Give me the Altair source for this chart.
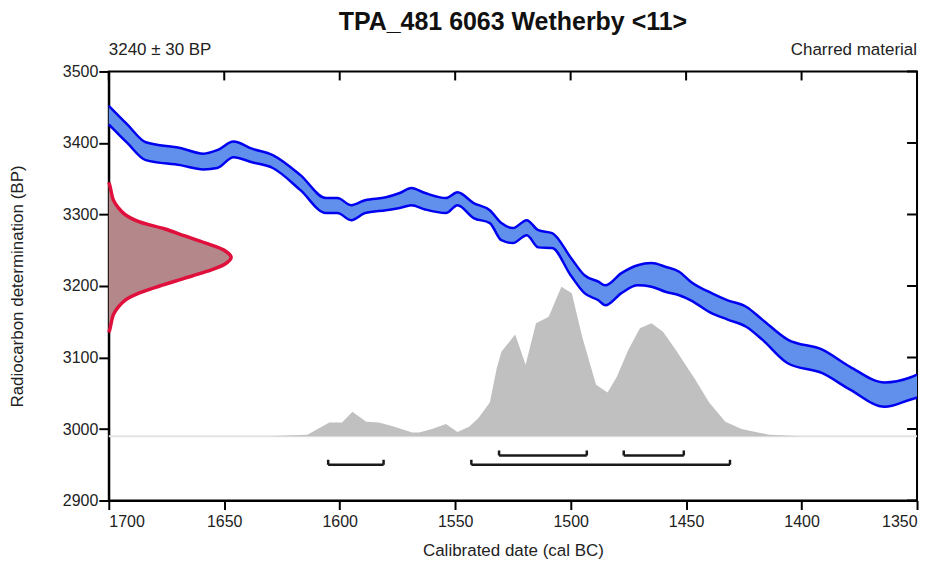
import altair as alt
import pandas as pd

# ---------------- data ----------------
# calibration curve band (cal BC, upper and lower BP edge)
cal_year = [1700, 1692, 1684, 1669, 1659, 1653, 1646, 1638, 1629, 1617, 1606, 1601,
            1595, 1589, 1580, 1574, 1569, 1563, 1554, 1549, 1542, 1535, 1530, 1525,
            1519, 1514, 1508, 1500, 1494, 1488, 1485, 1478, 1471, 1465, 1459, 1453,
            1448, 1439, 1432, 1424, 1417, 1406, 1391, 1379, 1364, 1353, 1350]
cal_top = [3452, 3426, 3401, 3393, 3385, 3390, 3402, 3392, 3383, 3355, 3323, 3323,
           3313, 3320, 3324, 3330, 3337, 3330, 3323, 3331, 3316, 3306, 3288, 3281,
           3292, 3278, 3274, 3240, 3215, 3206, 3201, 3218, 3229, 3232, 3227, 3220,
           3206, 3190, 3180, 3171, 3153, 3125, 3111, 3087, 3065, 3072, 3076]
cal_bot = [3426, 3400, 3376, 3369, 3363, 3365, 3380, 3373, 3365, 3334, 3302, 3302,
           3292, 3302, 3306, 3309, 3313, 3307, 3302, 3313, 3295, 3288, 3264, 3260,
           3271, 3254, 3253, 3215, 3190, 3180, 3173, 3190, 3201, 3199, 3192, 3187,
           3180, 3162, 3153, 3143, 3125, 3092, 3078, 3055, 3031, 3041, 3044]

# radiocarbon determination 3240 +/- 30 BP (BP, width in years from the axis)
rc_bp = [3345, 3340, 3320, 3310, 3300, 3290, 3280, 3270, 3260, 3250, 3240,
         3230, 3220, 3210, 3200, 3190, 3180, 3170, 3160, 3140, 3135]
rc_width = [0, 0.5, 2, 4, 7, 13, 24, 33, 42, 50, 53,
            50, 42, 32, 22, 13, 7, 4, 2, 0.5, 0]

# calibrated probability distribution (cal BC, BP height of outline)
pd_year = [1632, 1625, 1614, 1604.5, 1599, 1594.5, 1588.5, 1583, 1577, 1568.6, 1565.6,
           1560, 1554, 1549, 1544, 1540, 1535, 1532, 1530, 1524, 1519.5, 1515, 1509.5,
           1504, 1499.5, 1495, 1489, 1484, 1480, 1475, 1470, 1465, 1460, 1454.5,
           1446, 1440, 1433, 1426, 1414, 1400]
pd_top = [2990, 2990.5, 2992, 3009, 3009, 3024, 3010, 3009, 3004, 2995, 2995,
          3000, 3007, 2996, 3003, 3015, 3037, 3085, 3108, 3132, 3090, 3148, 3157,
          3199, 3190, 3129, 3062, 3051, 3073, 3111, 3141, 3148, 3136, 3111,
          3069, 3037, 3010, 3000, 2992, 2990]
pd_base = 2990

# highest posterior density ranges
hpd_start = [1531, 1477, 1605, 1543]
hpd_end = [1493, 1451, 1581, 1431]
hpd_row = [2963, 2963, 2950, 2950]

x_ticks = [1700, 1650, 1600, 1550, 1500, 1450, 1400, 1350]
y_ticks = [2900, 3000, 3100, 3200, 3300, 3400, 3500]

# ---------------- build chart ----------------
W, H = 810, 430
FONT = "Liberation Sans"

xs = alt.Scale(domain=[1350, 1700], reverse=True, nice=False, zero=False)
ys = alt.Scale(domain=[2900, 3500], nice=False, zero=False)

x_axis = alt.Axis(title="Calibrated date (cal BC)", values=x_ticks, format="d",
                  tickSize=9, labelPadding=4, grid=False,
                  titleX=W / 2, titleY=50, titleBaseline="middle", titleAlign="center")
y_axis = alt.Axis(title="Radiocarbon determination (BP)", values=y_ticks, format="d",
                  tickSize=10, labelPadding=1, grid=False,
                  titleX=-91, titleY=H / 2, titleAngle=270, titleBaseline="middle",
                  titleAlign="center")


def X(field):
    return alt.X(f"{field}:Q", scale=xs, axis=x_axis)


def Y(field):
    return alt.Y(f"{field}:Q", scale=ys, axis=y_axis)


cal = pd.DataFrame({"year": cal_year, "top": cal_top, "bot": cal_bot})
rc = pd.DataFrame({"bp": rc_bp, "w": rc_width})
rc["xpos"] = 1700 - rc["w"]
rc["base"] = 1700
prob = pd.DataFrame({"year": pd_year, "top": pd_top})
prob["base"] = pd_base
hpd = pd.DataFrame({"s": hpd_start, "e": hpd_end, "row": hpd_row})
hpd["tip"] = hpd["row"] + 7

base_line = alt.Chart(pd.DataFrame({"b": [pd_base]})).mark_rule(
    color="#e4e4e4", strokeWidth=2).encode(y=Y("b"))

prob_area = alt.Chart(prob).mark_area(color="#c0c0c0", interpolate="linear").encode(
    x=X("year"), y=Y("top"), y2="base:Q")

rc_area = alt.Chart(rc).mark_area(orient="horizontal", color="#b4878b",
                                  interpolate="catmull-rom").encode(
    y=Y("bp"), x=X("xpos"), x2="base:Q")
rc_line = alt.Chart(rc).mark_line(color="#e0103c", strokeWidth=3.5,
                                  interpolate="catmull-rom").encode(
    x=X("xpos"), y=Y("bp"), order="bp:Q")

band = alt.Chart(cal).mark_area(color="#6090ec", interpolate="monotone").encode(
    x=X("year"), y=Y("top"), y2="bot:Q")
band_top = alt.Chart(cal).mark_line(color="#0000f0", strokeWidth=2.5,
                                    interpolate="monotone").encode(x=X("year"), y=Y("top"))
band_bot = alt.Chart(cal).mark_line(color="#0000f0", strokeWidth=2.5,
                                    interpolate="monotone").encode(x=X("year"), y=Y("bot"))

hpd_h = alt.Chart(hpd).mark_rule(color="#1a1a1a", strokeWidth=2.5).encode(
    x=X("s"), x2="e:Q", y=Y("row"))
hpd_l = alt.Chart(hpd).mark_rule(color="#1a1a1a", strokeWidth=2.5).encode(
    x=X("s"), y=Y("row"), y2="tip:Q")
hpd_r = alt.Chart(hpd).mark_rule(color="#1a1a1a", strokeWidth=2.5).encode(
    x=X("e"), y=Y("row"), y2="tip:Q")

top_ticks = alt.Chart(pd.DataFrame({"t": x_ticks})).mark_rule(
    color="black", strokeWidth=2).encode(x=X("t"), y=alt.value(0), y2=alt.value(9))
right_ticks = alt.Chart(pd.DataFrame({"t": y_ticks})).mark_rule(
    color="black", strokeWidth=2).encode(y=Y("t"), x=alt.value(W), x2=alt.value(W - 10))

title_txt = alt.Chart(pd.DataFrame({"t": ["TPA_481 6063 Wetherby <11>"]})).mark_text(
    font=FONT, fontSize=25, fontWeight="bold", color="#111", align="center",
    baseline="middle").encode(text="t:N", x=alt.value(W / 2), y=alt.value(-50))
left_txt = alt.Chart(pd.DataFrame({"t": ["3240 ± 30 BP"]})).mark_text(
    font=FONT, fontSize=17, color="#222", align="left",
    baseline="alphabetic").encode(text="t:N", x=alt.value(0), y=alt.value(-16))
right_txt = alt.Chart(pd.DataFrame({"t": ["Charred material"]})).mark_text(
    font=FONT, fontSize=17, color="#222", align="right",
    baseline="alphabetic").encode(text="t:N", x=alt.value(W), y=alt.value(-16))

chart = alt.layer(
    base_line, prob_area, rc_area, rc_line, band, band_top, band_bot,
    hpd_h, hpd_l, hpd_r, top_ticks, right_ticks, title_txt, left_txt, right_txt
).properties(
    width=W, height=H,
    autosize=alt.AutoSizeParams(type="none"),
    padding={"left": 101, "top": 63, "right": 15, "bottom": 60},
).configure_view(
    stroke="black", strokeWidth=2
).configure_axis(
    labelFont=FONT, labelFontSize=16, labelColor="#222",
    titleFont=FONT, titleFontSize=17, titleFontWeight="normal", titleColor="#222",
    domainColor="black", domainWidth=2, tickColor="black", tickWidth=2,
)

chart.save("out.html", embed_options={"renderer": "svg", "actions": False})
